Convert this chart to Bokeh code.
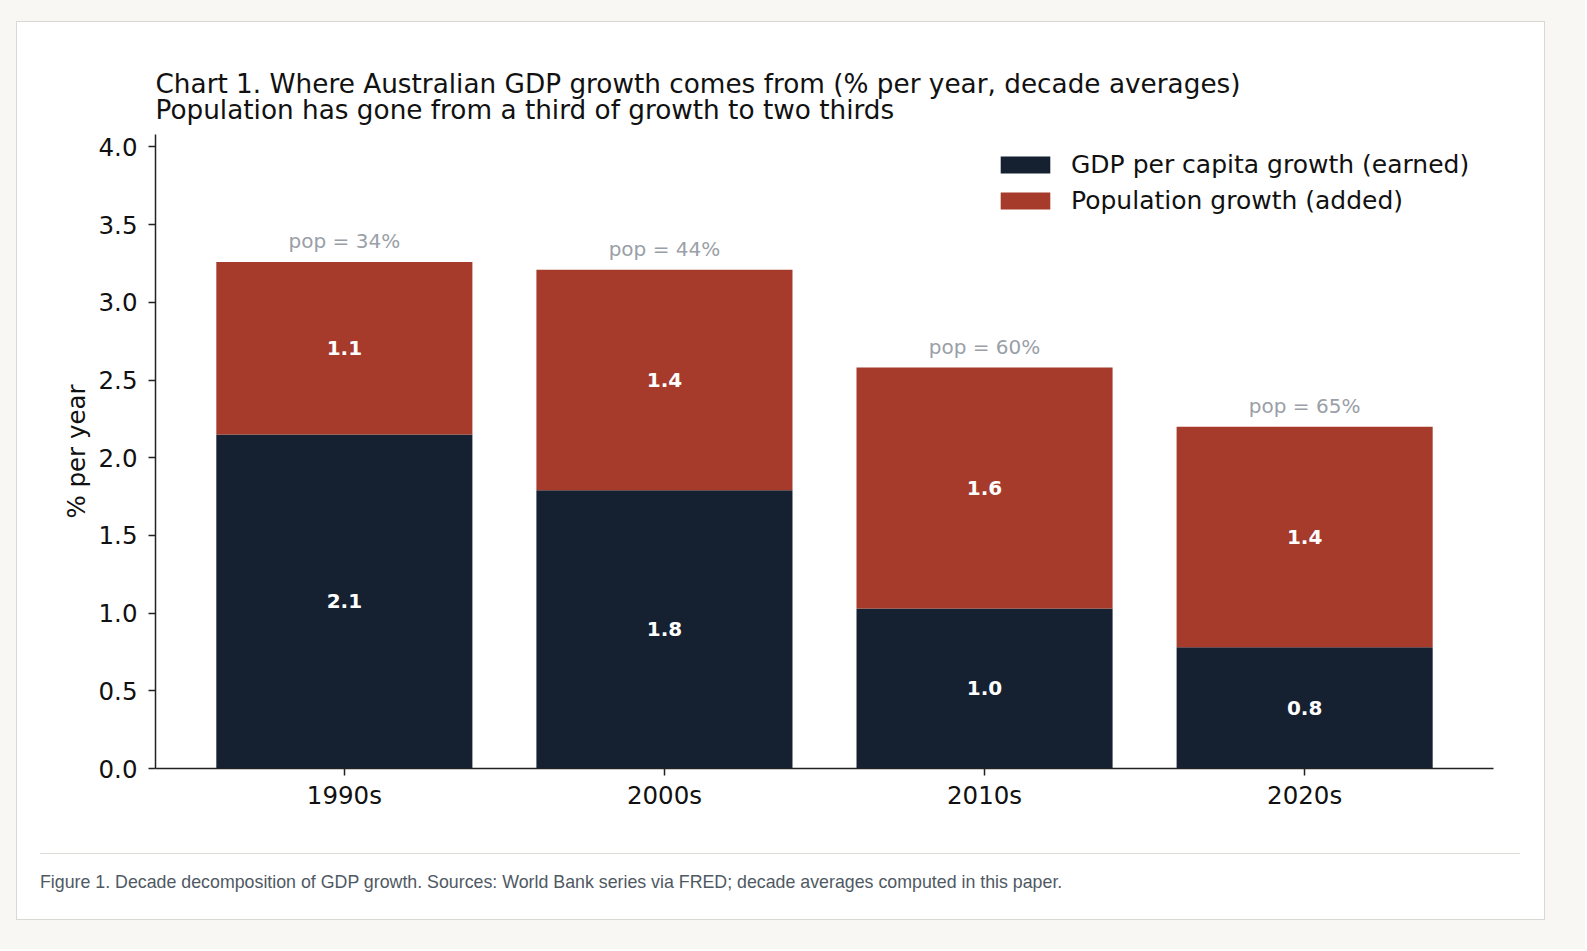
from bokeh.plotting import figure
from bokeh.layouts import column
from bokeh.models import (ColumnDataSource, FactorRange, Range1d, LabelSet, Title, Div,
                          FixedTicker, NumeralTickFormatter)
from bokeh.embed import file_html
from bokeh.resources import INLINE
from bokeh.core.properties import value

# ---- data ----
decades = ["1990s", "2000s", "2010s", "2020s"]
gdp_per_capita = [2.15, 1.79, 1.03, 0.78]
population = [1.11, 1.42, 1.55, 1.42]
y_ticks = [0.0, 0.5, 1.0, 1.5, 2.0, 2.5, 3.0, 3.5, 4.0]

series_names = ["GDP per capita growth (earned)", "Population growth (added)"]
title_line1 = "Chart 1. Where Australian GDP growth comes from (% per year, decade averages)"
title_line2 = "Population has gone from a third of growth to two thirds"
caption = ("Figure 1. Decade decomposition of GDP growth. Sources: World Bank series via FRED; "
           "decade averages computed in this paper.")

NAVY = "#152031"
RED = "#a63a2b"
FONT = "DejaVu Sans"

total = [g + q for g, q in zip(gdp_per_capita, population)]
src = ColumnDataSource(dict(
    decade=decades,
    gdp=gdp_per_capita,
    pop=population,
    total=total,
    gdp_mid=[g / 2 for g in gdp_per_capita],
    pop_mid=[g + q / 2 for g, q in zip(gdp_per_capita, population)],
    gdp_txt=[f"{g:.1f}" for g in gdp_per_capita],
    pop_txt=[f"{q:.1f}" for q in population],
    share_txt=[f"pop = {100 * q / t:.0f}%" for q, t in zip(population, total)],
))

W, H = 1527, 831
p = figure(
    width=W, height=H,
    x_range=FactorRange(factors=decades, range_padding=0.09, range_padding_units="absolute"),
    y_range=Range1d(0, 4.08),
    output_backend="svg", toolbar_location=None,
    min_border_left=138, min_border_right=51, min_border_top=112, min_border_bottom=85,
    margin=0,
)
p.border_fill_color = "white"
p.background_fill_color = "white"
p.outline_line_color = None
p.xgrid.visible = False
p.ygrid.visible = False

p.vbar_stack(["gdp", "pop"], x="decade", width=0.8, color=[NAVY, RED], source=src,
             legend_label=series_names, line_color=None)

# labels
p.add_layout(LabelSet(x="decade", y="gdp_mid", text="gdp_txt", source=src,
                      text_align="center", text_baseline="middle", text_color="white",
                      text_font=value(FONT), text_font_size="20px", text_font_style="bold"))
p.add_layout(LabelSet(x="decade", y="pop_mid", text="pop_txt", source=src,
                      text_align="center", text_baseline="middle", text_color="white",
                      text_font=value(FONT), text_font_size="20px", text_font_style="bold"))
p.add_layout(LabelSet(x="decade", y="total", text="share_txt", source=src,
                      text_align="center", text_baseline="alphabetic", y_offset=14,
                      text_color="#9aa0a7", text_font=value(FONT), text_font_size="20px"))

# two-line title
p.add_layout(Title(text=title_line1 + "\n" + title_line2, align="left", text_font=FONT,
                   text_font_size="26.3px", text_font_style="normal", text_color="#111111",
                   text_line_height=0.88, standoff=18), "above")

# axes
for ax in (p.xaxis[0], p.yaxis[0]):
    ax.axis_line_color = "#222222"
    ax.axis_line_width = 1.5
    ax.major_tick_line_color = "#222222"
    ax.major_tick_line_width = 1.5
    ax.major_tick_out = 7
    ax.major_tick_in = 0
    ax.minor_tick_line_color = None
    ax.major_label_text_font = FONT
    ax.major_label_text_font_size = "24.5px"
    ax.major_label_text_color = "#111111"
p.yaxis.major_label_standoff = 11
p.xaxis.major_label_standoff = 5

p.yaxis.ticker = FixedTicker(ticks=y_ticks)
p.yaxis.formatter = NumeralTickFormatter(format="0.0")
p.yaxis.axis_label = "% per year"
p.yaxis.axis_label_text_font = FONT
p.yaxis.axis_label_text_font_size = "24.5px"
p.yaxis.axis_label_text_font_style = "normal"
p.yaxis.axis_label_text_color = "#111111"
p.yaxis.axis_label_standoff = 5

leg = p.legend[0]
leg.location = "top_right"
leg.background_fill_alpha = 0
leg.border_line_alpha = 0
leg.label_text_font = FONT
leg.label_text_font_size = "25px"
leg.label_text_color = "#111111"
leg.glyph_width = 62
leg.glyph_height = 21
leg.label_standoff = 15
leg.label_width = 406
leg.spacing = 7
leg.margin = 8
leg.padding = 8

cap = Div(
    text=("<div style=\"border-top:1px solid #dedcd6; width:1480px; margin:0 0 0 23px; padding-top:16px; "
          "font-family:'Liberation Sans', Arial, sans-serif; font-size:17.8px; color:#4f5963; "
          "white-space:nowrap;\">" + caption + "</div>"),
    width=W, height=66, margin=0,
    styles={"background-color": "white"},
)

card = column(p, cap, spacing=0, margin=(21, 40, 29, 16),
              styles={"border": "1px solid #d9d8d3", "background-color": "white"})
page = column(card, margin=0, styles={"background-color": "#f8f7f3"})

open("out.html", "w").write(file_html(page, INLINE))
